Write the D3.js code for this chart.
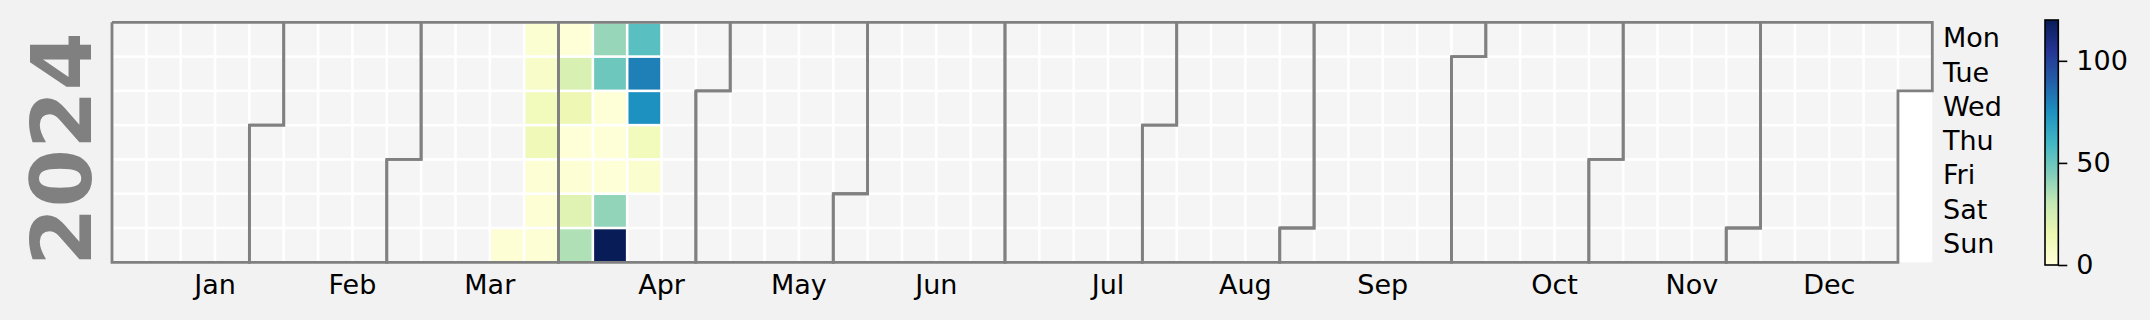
<!DOCTYPE html>
<html>
<head>
<meta charset="utf-8">
<script src="https://cdn.jsdelivr.net/npm/d3@7"></script>
<style>
  html, body { margin: 0; padding: 0; background: #f2f2f2; }
  svg { display: block; font-family: "DejaVu Sans", sans-serif; }
</style>
</head>
<body>
<svg id="cal" width="2150" height="320"></svg>
<script>
const svg = d3.select('#cal');

// data
const year = 2024;
const dates = [
  '2024-03-24', '2024-03-25', '2024-03-26', '2024-03-27', '2024-03-28', '2024-03-29', '2024-03-30',
  '2024-03-31', '2024-04-01', '2024-04-02', '2024-04-03', '2024-04-04', '2024-04-05', '2024-04-06',
  '2024-04-07', '2024-04-08', '2024-04-09', '2024-04-10', '2024-04-11', '2024-04-12', '2024-04-13',
  '2024-04-14', '2024-04-15', '2024-04-16', '2024-04-17', '2024-04-18', '2024-04-19'
];
const values = [
  2, 3, 6, 11, 12, 2, 2,
  2, 1, 23, 14, 1, 2, 20,
  35, 40, 49, 1, 1, 1, 41,
  120, 54, 80, 75, 11, 4
];
const monthLabels = ['Jan', 'Feb', 'Mar', 'Apr', 'May', 'Jun', 'Jul', 'Aug', 'Sep', 'Oct', 'Nov', 'Dec'];
const dayLabels = ['Mon', 'Tue', 'Wed', 'Thu', 'Fri', 'Sat', 'Sun'];
const cbarTicks = [0, 50, 100];
// matplotlib YlGnBu
const ylgnbu = ['#ffffd9', '#edf8b1', '#c7e9b4', '#7fcdbb', '#41b6c4', '#1d91c0', '#225ea8', '#253494', '#081d58'];

const vmin = 0, vmax = 120;

const parse = d3.timeParse('%Y-%m-%d');
const valueByDay = new Map(dates.map((d, i) => [d, values[i]]));

const x = d3.scaleLinear().domain([0, 53]).range([112, 1932.3]);
const y = d3.scaleLinear().domain([0, 7]).range([22.3, 262.3]);

const color = d3.scaleLinear()
  .domain(ylgnbu.map((c, i) => vmin + i * (vmax - vmin) / (ylgnbu.length - 1)))
  .range(ylgnbu)
  .clamp(true);

const jan1 = new Date(year, 0, 1);
const offset = (jan1.getDay() + 6) % 7;
function col(d) { return Math.floor((d3.timeDay.count(jan1, d) + offset) / 7); }
function row(d) { return (d.getDay() + 6) % 7; }

const days = d3.timeDay.range(jan1, new Date(year + 1, 0, 1));
const fmt = d3.timeFormat('%Y-%m-%d');

// axes background
svg.append('rect')
  .attr('x', x(0)).attr('y', y(0))
  .attr('width', x(53) - x(0)).attr('height', y(7) - y(0))
  .attr('fill', '#ffffff');

const gap = 1.3;
svg.append('g')
  .selectAll('rect')
  .data(days)
  .enter()
  .append('rect')
  .attr('x', d => x(col(d)) + gap)
  .attr('y', d => y(row(d)) + gap)
  .attr('width', x(1) - x(0) - 2 * gap)
  .attr('height', y(1) - y(0) - 2 * gap)
  .attr('fill', d => {
    let v = valueByDay.get(fmt(d));
    return v === undefined ? '#f5f5f5' : color(v);
  });

// month outlines
const line = d3.line().x(p => x(p[0])).y(p => y(p[1]));
for (let m = 0; m < 12; m++) {
  let first = new Date(year, m, 1);
  let last = new Date(year, m + 1, 0);
  let c1 = col(first), r1 = row(first);
  let c2 = col(last), r2 = row(last);
  let pts = [[c1, r1], [c1 + 1, r1], [c1 + 1, 0], [c2 + 1, 0], [c2 + 1, r2 + 1], [c2, r2 + 1], [c2, 7], [c1, 7], [c1, r1]];
  svg.append('path')
    .attr('d', line(pts))
    .attr('fill', 'none')
    .attr('stroke', '#808080')
    .attr('stroke-width', 2.8)
    .attr('stroke-linejoin', 'miter');
}

// month labels
svg.append('g')
  .selectAll('text')
  .data(monthLabels)
  .enter()
  .append('text')
  .attr('x', (d, i) => x(col(new Date(year, i, 15)) + 1))
  .attr('y', 294)
  .attr('text-anchor', 'middle')
  .attr('font-size', 27)
  .attr('fill', '#000')
  .text(d => d);

// day labels
svg.append('g')
  .selectAll('text')
  .data(dayLabels)
  .enter()
  .append('text')
  .attr('x', 1943)
  .attr('y', (d, i) => y(i + 0.5))
  .attr('dy', '0.29em')
  .attr('font-size', 27)
  .attr('fill', '#000')
  .text(d => d);

// year label
svg.append('text')
  .attr('transform', 'translate(90.5,149) rotate(-90)')
  .attr('text-anchor', 'middle')
  .attr('font-size', 84)
  .attr('font-weight', 'bold')
  .attr('fill', '#808080')
  .text(year);

// colorbar
const cb = { x: 2045, w: 13.3, top: 20, bottom: 265 };
const grad = svg.append('defs').append('linearGradient')
  .attr('id', 'cbgrad')
  .attr('x1', 0).attr('y1', 1).attr('x2', 0).attr('y2', 0);
grad.selectAll('stop')
  .data(ylgnbu)
  .enter()
  .append('stop')
  .attr('offset', (d, i) => i / (ylgnbu.length - 1))
  .attr('stop-color', d => d);

const cy = d3.scaleLinear().domain([vmin, vmax]).range([cb.bottom, cb.top]);
svg.append('rect')
  .attr('x', cb.x).attr('y', cb.top)
  .attr('width', cb.w).attr('height', cb.bottom - cb.top)
  .attr('fill', 'url(#cbgrad)')
  .attr('stroke', '#000')
  .attr('stroke-width', 1.6);

const cbAxis = d3.axisRight(cy).tickValues(cbarTicks).tickSize(9).tickPadding(9);
const gAxis = svg.append('g')
  .attr('transform', `translate(${cb.x + cb.w},0)`)
  .call(cbAxis);
gAxis.select('.domain').remove();
gAxis.selectAll('line').attr('stroke', '#000').attr('stroke-width', 1.6);
gAxis.selectAll('text')
  .attr('font-size', 27)
  .attr('font-family', '"DejaVu Sans", sans-serif')
  .attr('fill', '#000');
</script>
</body>
</html>
